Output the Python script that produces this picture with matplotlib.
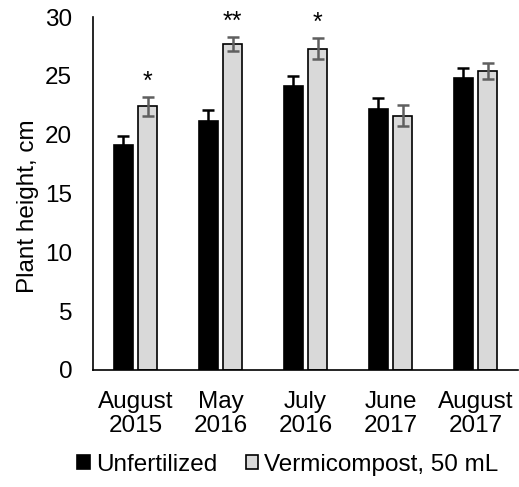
import matplotlib
matplotlib.use("Agg")
import matplotlib.pyplot as plt
import numpy as np

plt.rcParams['font.family'] = ['Liberation Sans', 'DejaVu Sans']

categories = ["August\n2015", "May\n2016", "July\n2016", "June\n2017", "August\n2017"]
unfertilized = [19.1, 21.2, 24.1, 22.2, 24.8]
unfertilized_err = [0.8, 0.9, 0.9, 0.9, 0.9]
vermicompost = [22.4, 27.7, 27.3, 21.6, 25.4]
vermicompost_err = [0.8, 0.6, 0.9, 0.9, 0.7]
significance = ["*", "**", "*", "", ""]

FS = 17.5

fig = plt.figure(figsize=(5.19, 4.87), dpi=100)
ax = fig.add_axes([93/519, 1-370/487, 425/519, 353/487])

x = np.arange(len(categories))
w = 0.22
off = 0.145

ax.bar(x - off, unfertilized, w, color="black", edgecolor="black", linewidth=1.2,
       label="Unfertilized", zorder=2)
ax.errorbar(x - off, unfertilized, yerr=unfertilized_err, fmt="none", ecolor="black",
            elinewidth=1.8, capsize=4.3, capthick=1.8, zorder=3)
ax.bar(x + off, vermicompost, w, color="#d9d9d9", edgecolor="black", linewidth=1.2,
       label="Vermicompost, 50 mL", zorder=2)
ax.errorbar(x + off, vermicompost, yerr=vermicompost_err, fmt="none", ecolor="#5f5f5f",
            elinewidth=1.8, capsize=4.3, capthick=1.8, zorder=3)

for xi, v, e, s in zip(x, vermicompost, vermicompost_err, significance):
    if s:
        ax.annotate(s, (xi + off, v + e), xytext=(0, 6), textcoords="offset points",
                    ha="center", va="baseline", fontsize=18, annotation_clip=False)

ax.set_xlim(-0.5, 4.5)
ax.set_ylim(0, 30)
ax.set_yticks([0, 5, 10, 15, 20, 25, 30])
ax.set_xticks(x)
ax.set_xticklabels(categories, fontsize=FS, linespacing=1.1)
ax.tick_params(axis="y", length=0, pad=15, labelsize=FS)
ax.tick_params(axis="x", length=0, pad=15)
ax.set_ylabel("Plant height, cm", fontsize=FS)
ax.yaxis.set_label_coords(-0.126, 0.464)

for side in ("top", "right"):
    ax.spines[side].set_visible(False)
ax.spines["left"].set_linewidth(1.2)
ax.spines["bottom"].set_linewidth(1.2)

handles, labels = ax.get_legend_handles_labels()
fig.legend(handles, labels, loc="center", bbox_to_anchor=(288/519, 1-465/487),
           ncol=2, frameon=False, fontsize=FS, handlelength=0.5, handleheight=0.5,
           handletextpad=0.25, columnspacing=1.2, borderpad=0)

fig.savefig("out.png", dpi=100)
